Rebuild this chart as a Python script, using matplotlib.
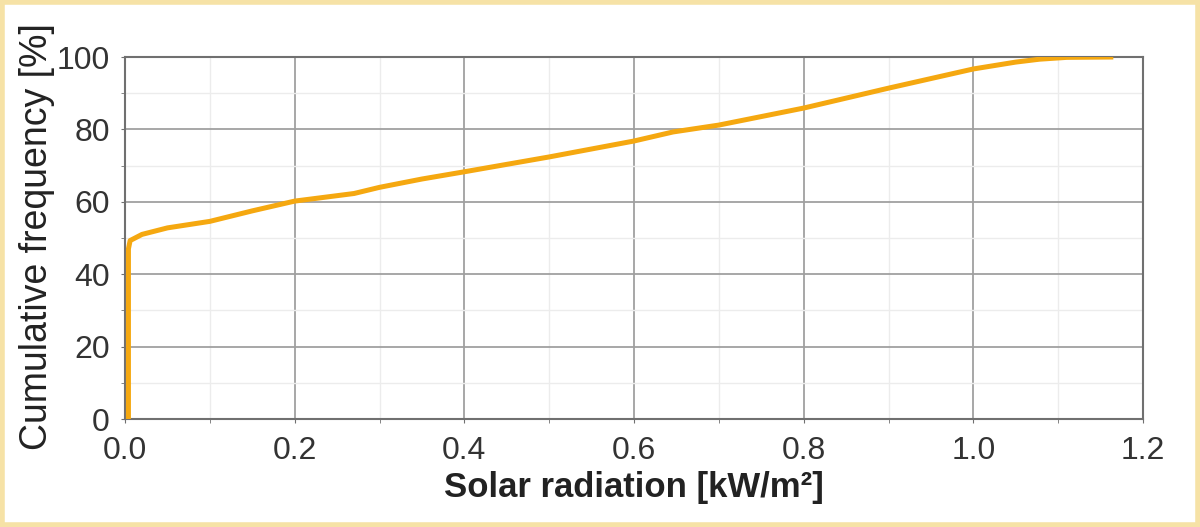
import numpy as np
import matplotlib
matplotlib.use('Agg')
import matplotlib.pyplot as plt
from matplotlib.patches import Rectangle
from matplotlib.ticker import MultipleLocator, FormatStrFormatter

# cumulative frequency curve
radiation = [0.004, 0.004, 0.006, 0.02, 0.05, 0.1, 0.15, 0.2, 0.27, 0.3, 0.35,
             0.4, 0.5, 0.6, 0.646, 0.7, 0.8, 0.9, 1.0, 1.05, 1.078, 1.11, 1.165]
cum_freq = [0.0, 47.0, 49.3, 51.0, 52.8, 54.6, 57.5, 60.2, 62.3, 64.0, 66.3,
            68.3, 72.4, 76.8, 79.3, 81.2, 85.9, 91.4, 96.7, 98.6, 99.4, 99.9, 100.0]

plt.rcParams['font.family'] = ['Liberation Sans', 'DejaVu Sans']

fig = plt.figure(figsize=(12, 5.27), dpi=100)
fig.add_artist(Rectangle((0.002, 0.004), 0.996, 0.992, transform=fig.transFigure,
                         fill=False, edgecolor='#f6e2a6', linewidth=4))
ax = fig.add_axes([0.1042, 0.2049, 0.8483, 0.6869])

ax.plot(radiation, cum_freq, color='#f5a810', lw=3.6, solid_capstyle='butt', zorder=3)

ax.set_xlim(0, 1.2)
ax.set_ylim(0, 100)
ax.xaxis.set_major_locator(MultipleLocator(0.2))
ax.xaxis.set_minor_locator(MultipleLocator(0.1))
ax.yaxis.set_major_locator(MultipleLocator(20))
ax.yaxis.set_minor_locator(MultipleLocator(10))
ax.xaxis.set_major_formatter(FormatStrFormatter('%.1f'))

ax.grid(which='major', color='#a0a0a0', lw=1.3)
ax.grid(which='minor', color='#ececec', lw=1.0)
ax.set_axisbelow(True)
for s in ax.spines.values():
    s.set_color('#707070')
    s.set_linewidth(1.5)

ax.tick_params(which='both', direction='out', length=3, color='#707070',
               labelsize=23, labelcolor='#333333')
ax.tick_params(axis='x', pad=9)
ax.tick_params(axis='y', pad=8)

ax.set_xlabel('Solar radiation [kW/m²]', fontsize=25, fontweight='bold',
              color='#222222', va='center')
ax.set_ylabel('Cumulative frequency [%]', fontsize=27, color='#222222', va='center')
ax.xaxis.set_label_coords(0.4995, -0.188)
ax.yaxis.set_label_coords(-0.0864, 0.503)

fig.savefig('out.png', dpi=100, facecolor='white')
